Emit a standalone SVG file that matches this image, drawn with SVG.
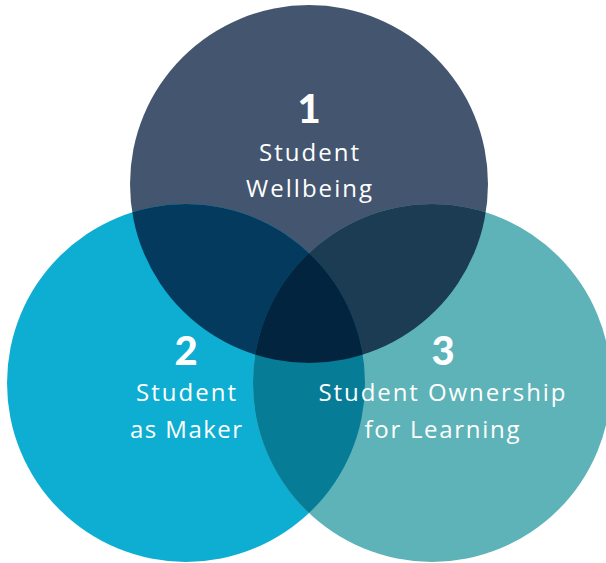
<svg xmlns="http://www.w3.org/2000/svg" xmlns:xlink="http://www.w3.org/1999/xlink" width="606" height="563" viewBox="0 0 606 563">
  <style>
    .num { font-family: Lato, "Open Sans", sans-serif; font-weight: 900; font-size: 40px; fill: #ffffff; text-anchor: middle; }
    .lbl { font-family: "Open Sans", "Noto Sans", sans-serif; font-weight: 400; font-size: 24px; fill: #ffffff; text-anchor: middle; }
  </style>
  <defs>
    <circle id="cTop" cx="309" cy="184" r="179"/>
    <circle id="cLeft" cx="186" cy="383" r="179"/>
    <circle id="cRight" cx="432" cy="383" r="179"/>
    <clipPath id="clipTop"><use xlink:href="#cTop"/></clipPath>
    <clipPath id="clipLeft"><use xlink:href="#cLeft"/></clipPath>
  </defs>
  <g id="node-top-circle">
    <use xlink:href="#cTop" fill="#44566f"/>
  </g>
  <g id="node-left-circle">
    <use xlink:href="#cLeft" fill="#0eaed2"/>
  </g>
  <g id="node-right-circle">
    <use xlink:href="#cRight" fill="#5db3b8"/>
  </g>
  <g id="overlaps">
    <use xlink:href="#cLeft" fill="#043a5e" clip-path="url(#clipTop)"/>
    <use xlink:href="#cRight" fill="#1b3c52" clip-path="url(#clipTop)"/>
    <use xlink:href="#cRight" fill="#077c97" clip-path="url(#clipLeft)"/>
    <g clip-path="url(#clipTop)">
      <use xlink:href="#cRight" fill="#03243f" clip-path="url(#clipLeft)"/>
    </g>
  </g>
  <g id="node-1">
    <text class="num" x="309" y="123">1</text>
    <text class="lbl" x="309" y="161" textLength="100" lengthAdjust="spacing">Student</text>
    <text class="lbl" x="309" y="197" textLength="126" lengthAdjust="spacing">Wellbeing</text>
  </g>
  <g id="node-2">
    <text class="num" x="186" y="365">2</text>
    <text class="lbl" x="186" y="401" textLength="100" lengthAdjust="spacing">Student</text>
    <text class="lbl" x="186" y="438" textLength="112" lengthAdjust="spacing">as Maker</text>
  </g>
  <g id="node-3">
    <text class="num" x="443" y="365">3</text>
    <text class="lbl" x="442" y="401" textLength="247" lengthAdjust="spacing">Student Ownership</text>
    <text class="lbl" x="442" y="438" textLength="155" lengthAdjust="spacing">for Learning</text>
  </g>
</svg>
